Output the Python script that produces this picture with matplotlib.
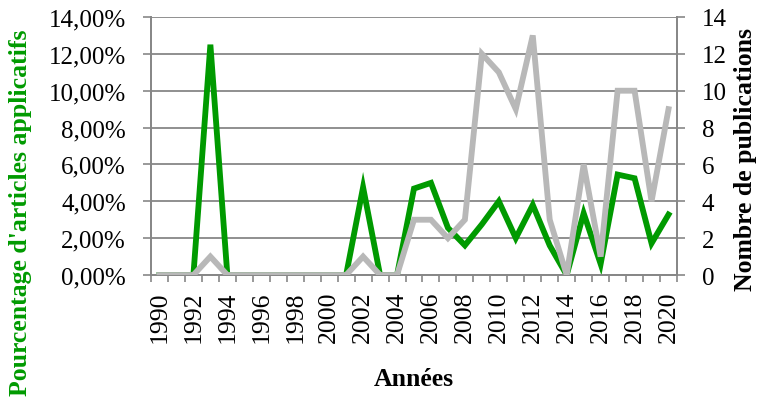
import matplotlib.pyplot as plt
import numpy as np
from matplotlib.ticker import FuncFormatter, MultipleLocator

# data
years = list(range(1990, 2021))
pct_applicatifs = [0, 0, 0, 12.5, 0, 0, 0, 0, 0, 0, 0, 0, 4.76, 0, 0,
                   4.69, 5.0, 2.56, 1.61, 2.75, 4.0, 2.0, 3.8, 1.6, 0,
                   3.35, 0.6, 5.45, 5.25, 1.72, 3.28]
nb_publications = [0, 0, 0, 1, 0, 0, 0, 0, 0, 0, 0, 0, 1, 0, 0,
                    3, 3, 2, 3, 12, 11, 9, 13, 3, 0,
                    6, 1, 10, 10, 4, 9]

green = '#009A00'
grey_line = '#B8B8B8'
axis_grey = '#878787'

plt.rcParams['font.family'] = ['Liberation Serif', 'DejaVu Serif']
plt.rcParams['font.size'] = 18

fig = plt.figure(figsize=(7.68, 4.10), dpi=100)
ax = fig.add_axes([0.1966, 0.3268, 0.6849, 0.6293])
ax2 = ax.twinx()

x = np.arange(len(years))
ax.plot(x, pct_applicatifs, color=green, lw=4.2, solid_joinstyle='miter', zorder=3)
ax2.plot(x, nb_publications, color=grey_line, lw=4.2, solid_joinstyle='miter', zorder=3)

ax.set_xlim(-0.5, len(years) - 0.5)
ax.set_ylim(0, 14)
ax2.set_ylim(0, 14)

ax.yaxis.set_major_locator(MultipleLocator(2))
ax2.yaxis.set_major_locator(MultipleLocator(2))
ax.yaxis.set_major_formatter(FuncFormatter(lambda v, p: ('%.2f%%' % v).replace('.', ',')))

# category labels every two years, tick marks between categories
ax.set_xticks(x[::2])
ax.set_xticklabels([str(y) for y in years[::2]], rotation=90, fontsize=18.5)
ax.set_xticks(np.arange(-0.5, len(years)), minor=True)
ax.tick_params(axis='x', which='major', length=0, pad=11)
ax.tick_params(axis='x', which='minor', length=5, width=1.2, color=axis_grey, direction='out')

ax.grid(axis='y', color=axis_grey, lw=1.3)
ax.set_axisbelow(True)
ax.tick_params(axis='y', length=6, width=1.2, color=axis_grey, pad=12)
ax2.tick_params(axis='y', length=6, width=1.2, color=axis_grey, pad=12)

for a in (ax, ax2):
    a.spines['top'].set_visible(False)
    for side in ['left', 'right', 'bottom']:
        a.spines[side].set_color(axis_grey)
        a.spines[side].set_linewidth(1.3)

ax.set_ylabel("Pourcentage d'articles applicatifs", color=green,
              fontweight='bold', fontsize=18.5)
ax.yaxis.set_label_coords(-0.226, 0.245)
ax2.set_ylabel('Nombre de publications', fontweight='bold', fontsize=18.5)
ax2.yaxis.set_label_coords(1.108, 0.45)
ax.set_xlabel('Années', fontweight='bold', fontsize=18.5)
ax.xaxis.set_label_coords(0.5, -0.355)

fig.savefig('out.png', dpi=100)
